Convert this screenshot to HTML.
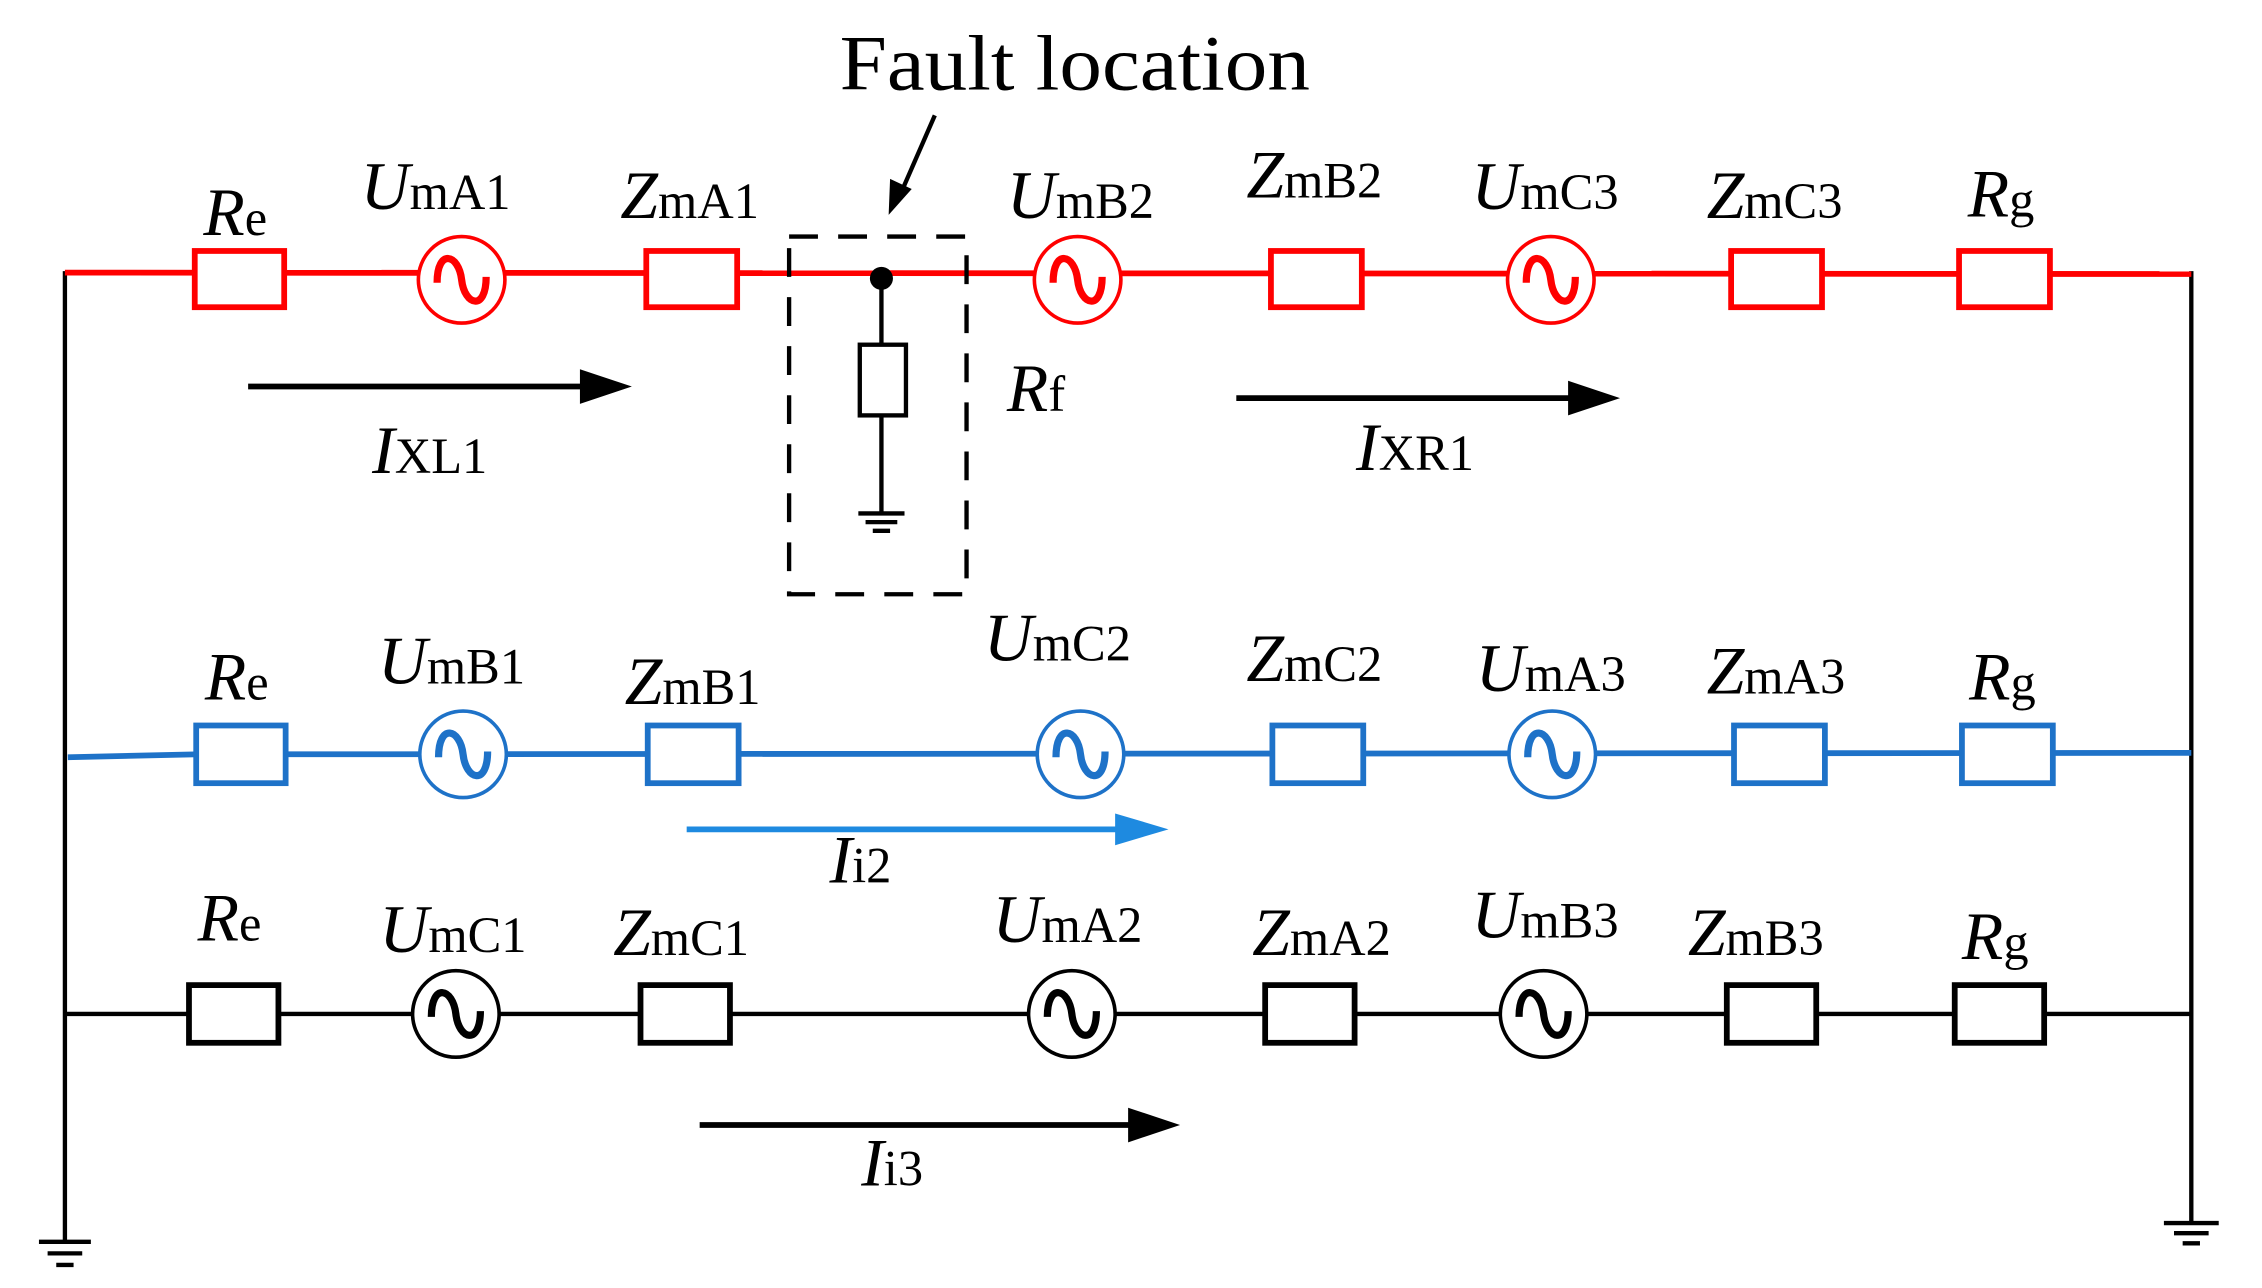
<!DOCTYPE html>
<html><head><style>
html,body{margin:0;padding:0;background:#fff;}
svg{display:block;}
text{font-family:"Liberation Serif",serif;}
.m{font-style:italic;font-size:47px;}
.s{font-size:35px;font-style:normal;}
</style></head><body>
<svg width="2262" height="1288" viewBox="0 0 1568 893" preserveAspectRatio="none" xmlns="http://www.w3.org/2000/svg">
<defs>
<g id="src"><circle cx="0" cy="0" r="30" fill="#fff" stroke-width="2.5"/><path d="M-17,2 C-17,-22 -2,-18 0,0 S17,22 17,-2" fill="none" stroke-width="5"/></g>
</defs>
<g stroke="#000" stroke-width="3" fill="none">
<line x1="45" y1="188" x2="45" y2="860"/>
<line x1="1519" y1="188" x2="1519" y2="847"/>
<line x1="27" y1="861" x2="63" y2="861"/><line x1="33" y1="869" x2="57" y2="869"/><line x1="39" y1="877" x2="51" y2="877"/>
<line x1="1500" y1="848" x2="1538" y2="848"/><line x1="1507" y1="855" x2="1531" y2="855"/><line x1="1513" y1="862" x2="1525" y2="862"/>
</g>
<g stroke="#f00" stroke-width="4" fill="#fff">
<line x1="45" y1="189" x2="1519" y2="190"/>
<rect x="135" y="174" width="62" height="39"/>
<rect x="448" y="174" width="63" height="39"/>
<rect x="881" y="174" width="63" height="39"/>
<rect x="1200" y="174" width="63" height="39"/>
<rect x="1358" y="174" width="63" height="39"/>
</g>
<g stroke="#f00"><use href="#src" x="320" y="194"/><use href="#src" x="747" y="194"/><use href="#src" x="1075" y="194"/></g>
<g stroke="#000" stroke-width="3" fill="none">
<rect x="547" y="164" width="123" height="248" stroke-dasharray="20,14"/>
<line x1="611" y1="193" x2="611" y2="238"/>
<rect x="596" y="239" width="32" height="49" fill="#fff"/>
<line x1="611" y1="288" x2="611" y2="355"/>
<line x1="595" y1="356" x2="627" y2="356"/><line x1="600" y1="362" x2="622" y2="362"/><line x1="605" y1="368" x2="617" y2="368"/>
<line x1="648" y1="80" x2="624" y2="135"/>
</g>
<circle cx="611" cy="193" r="8" fill="#000"/>
<polygon points="616,149 617,124 632,131" fill="#000"/>
<text x="582" y="62" style="font-size:54px" textLength="326" lengthAdjust="spacingAndGlyphs">Fault location</text>
<g stroke="#000" stroke-width="4"><line x1="172" y1="268" x2="410" y2="268"/><line x1="857" y1="276" x2="1092" y2="276"/></g>
<polygon points="402,256 438,268 402,280" fill="#000"/>
<polygon points="1087,264 1123,276 1087,288" fill="#000"/>
<g stroke="#1e72c8" stroke-width="4" fill="#fff">
<line x1="47" y1="525" x2="135" y2="523"/>
<line x1="135" y1="523" x2="1519" y2="522"/>
<rect x="136" y="503" width="62" height="40"/>
<rect x="449" y="503" width="63" height="40"/>
<rect x="882" y="503" width="63" height="40"/>
<rect x="1202" y="503" width="63" height="40"/>
<rect x="1360" y="503" width="63" height="40"/>
</g>
<g stroke="#1e72c8"><use href="#src" x="321" y="523"/><use href="#src" x="749" y="523"/><use href="#src" x="1076" y="523"/></g>
<line x1="476" y1="575" x2="780" y2="575" stroke="#1e8ae0" stroke-width="4"/>
<polygon points="773,564 810,575 773,586" fill="#1e8ae0"/>
<g stroke="#000" stroke-width="3" fill="#fff">
<line x1="45" y1="703" x2="1519" y2="703"/>
<rect x="131" y="683" width="62" height="40" stroke-width="4"/>
<rect x="444" y="683" width="62" height="40" stroke-width="4"/>
<rect x="877" y="683" width="62" height="40" stroke-width="4"/>
<rect x="1197" y="683" width="62" height="40" stroke-width="4"/>
<rect x="1355" y="683" width="62" height="40" stroke-width="4"/>
</g>
<g stroke="#000"><use href="#src" x="316" y="703"/><use href="#src" x="743" y="703"/><use href="#src" x="1070" y="703"/></g>
<line x1="485" y1="780" x2="790" y2="780" stroke="#000" stroke-width="4"/>
<polygon points="782,768 818,780 782,792" fill="#000"/>
<g class="m">
<text x="141" y="163">R<tspan class="s">e</tspan></text>
<text x="250" y="145">U<tspan class="s">mA1</tspan></text>
<text x="430" y="151">Z<tspan class="s">mA1</tspan></text>
<text x="698" y="151">U<tspan class="s">mB2</tspan></text>
<text x="864" y="137">Z<tspan class="s">mB2</tspan></text>
<text x="1020" y="145">U<tspan class="s">mC3</tspan></text>
<text x="1183" y="151">Z<tspan class="s">mC3</tspan></text>
<text x="1364" y="150">R<tspan class="s">g</tspan></text>
<text x="258" y="328">I<tspan class="s">XL1</tspan></text>
<text x="698" y="285">R<tspan class="s">f</tspan></text>
<text x="940" y="326">I<tspan class="s">XR1</tspan></text>
<text x="142" y="485">R<tspan class="s">e</tspan></text>
<text x="262" y="474">U<tspan class="s">mB1</tspan></text>
<text x="433" y="488">Z<tspan class="s">mB1</tspan></text>
<text x="682" y="458">U<tspan class="s">mC2</tspan></text>
<text x="864" y="472">Z<tspan class="s">mC2</tspan></text>
<text x="1023" y="479">U<tspan class="s">mA3</tspan></text>
<text x="1183" y="481">Z<tspan class="s">mA3</tspan></text>
<text x="1365" y="485">R<tspan class="s">g</tspan></text>
<text x="575" y="612">I<tspan class="s">i2</tspan></text>
<text x="137" y="652">R<tspan class="s">e</tspan></text>
<text x="263" y="660">U<tspan class="s">mC1</tspan></text>
<text x="425" y="662">Z<tspan class="s">mC1</tspan></text>
<text x="688" y="653">U<tspan class="s">mA2</tspan></text>
<text x="868" y="662">Z<tspan class="s">mA2</tspan></text>
<text x="1020" y="650">U<tspan class="s">mB3</tspan></text>
<text x="1170" y="662">Z<tspan class="s">mB3</tspan></text>
<text x="1360" y="665">R<tspan class="s">g</tspan></text>
<text x="597" y="822">I<tspan class="s">i3</tspan></text>
</g>
</svg>
</body></html>
